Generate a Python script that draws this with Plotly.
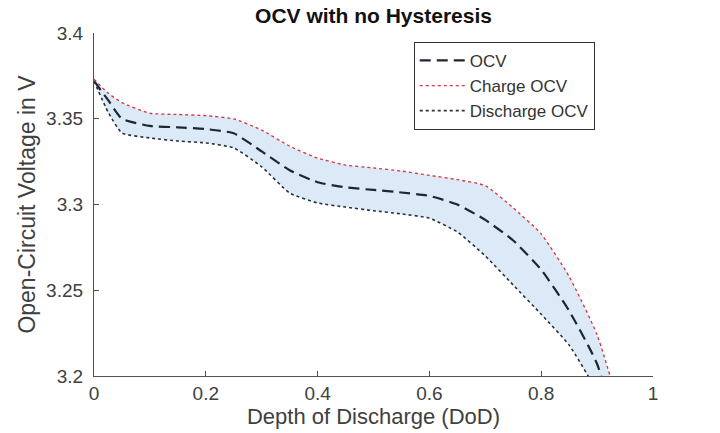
import plotly.graph_objects as go

dod = [0, 0.025, 0.05, 0.1, 0.15, 0.2, 0.25, 0.3, 0.35, 0.4, 0.45, 0.5, 0.55, 0.6, 0.65, 0.7, 0.75, 0.8, 0.85, 0.9, 0.95]
ocv = [3.372, 3.361, 3.350, 3.3458, 3.345, 3.344, 3.3415, 3.331, 3.320, 3.313, 3.310, 3.3085, 3.307, 3.305, 3.300, 3.291, 3.279, 3.262, 3.238, 3.207, 3.15]
charge_ocv = [3.373, 3.365, 3.3594, 3.3532, 3.3525, 3.3518, 3.3499, 3.3434, 3.334, 3.327, 3.323, 3.3213, 3.3195, 3.317, 3.3145, 3.311, 3.298, 3.2828, 3.258, 3.224, 3.17]
discharge_ocv = [3.372, 3.354, 3.3417, 3.3388, 3.337, 3.3359, 3.333, 3.322, 3.3067, 3.3009, 3.2985, 3.2964, 3.2945, 3.292, 3.284, 3.270, 3.253, 3.236, 3.218, 3.19, 3.13]

x_ticks = [0, 0.2, 0.4, 0.6, 0.8, 1]
x_ticktext = ["0", "0.2", "0.4", "0.6", "0.8", "1"]
y_ticks = [3.2, 3.25, 3.3, 3.35, 3.4]
y_ticktext = ["3.2", "3.25", "3.3", "3.35", "3.4"]

FONT = "Liberation Sans, Arial, sans-serif"
fig = go.Figure()

# band (fill between charge and discharge)
fig.add_trace(go.Scatter(x=dod, y=charge_ocv, mode="lines", line=dict(width=0, shape="spline", smoothing=0.5),
                         showlegend=False, hoverinfo="skip"))
fig.add_trace(go.Scatter(x=dod, y=discharge_ocv, mode="lines", line=dict(width=0, shape="spline", smoothing=0.5),
                         fill="tonexty", fillcolor="rgb(220,234,247)", showlegend=False, hoverinfo="skip"))

fig.add_trace(go.Scatter(x=dod, y=ocv, mode="lines", name="OCV",
                         line=dict(color="#1c2733", width=2.2, dash="11px,6px", shape="spline", smoothing=0.5)))
fig.add_trace(go.Scatter(x=dod, y=charge_ocv, mode="lines", name="Charge OCV",
                         line=dict(color="#e0303a", width=1.3, dash="dot", shape="spline", smoothing=0.5)))
fig.add_trace(go.Scatter(x=dod, y=discharge_ocv, mode="lines", name="Discharge OCV",
                         line=dict(color="#27323e", width=1.6, dash="dot", shape="spline", smoothing=0.5)))

fig.update_layout(
    width=720, height=433,
    margin=dict(l=94, r=67, t=33, b=57),
    paper_bgcolor="white", plot_bgcolor="white",
    font=dict(family=FONT, color="#404040"),
    title=dict(text="<b>OCV with no Hysteresis</b>", x=(94 + 653) / 2 / 720, xanchor="center",
               y=1 - 16 / 433, yanchor="middle", font=dict(size=21, color="#111111", family=FONT)),
    showlegend=True,
    legend=dict(x=0.572, y=0.974, xanchor="left", yanchor="top", bgcolor="white", traceorder="normal",
                bordercolor="#333333", borderwidth=1, font=dict(size=17, color="#333333", family=FONT),
                tracegroupgap=0, itemwidth=45),
    xaxis=dict(range=[0, 1], tickvals=x_ticks, ticktext=x_ticktext, ticks="inside", ticklen=5,
               tickcolor="#505050", showline=True, linecolor="#505050", linewidth=1.2, showgrid=False,
               zeroline=False, tickfont=dict(size=19, color="#404040"),
               title=dict(text="Depth of Discharge (DoD)", font=dict(size=22, color="#404040"), standoff=2)),
    yaxis=dict(range=[3.2, 3.4], tickvals=y_ticks, ticktext=y_ticktext, ticks="inside", ticklen=5,
               tickcolor="#505050", showline=True, linecolor="#505050", linewidth=1.2, showgrid=False,
               zeroline=False, tickfont=dict(size=19, color="#404040"), ticklabelstandoff=6,
               title=dict(text="Open-Circuit Voltage in V", font=dict(size=23, color="#404040"), standoff=4)),
)

fig.write_html("out.html")
